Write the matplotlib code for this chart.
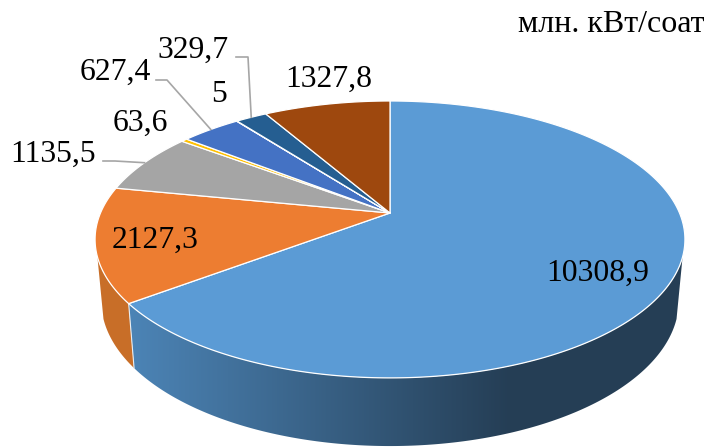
import matplotlib
matplotlib.use('Agg')
import matplotlib.pyplot as plt
import numpy as np
from matplotlib.patches import Polygon

values = [10308.9, 2127.3, 1135.5, 63.6, 627.4, 5, 329.7, 1327.8]
labels = ['10308,9', '2127,3', '1135,5', '63,6', '627,4', '5', '329,7', '1327,8']
colors = ['#5B9BD5', '#ED7D31', '#A5A5A5', '#FFC000', '#4472C4', '#70AD47', '#255E91', '#9E480E']
unit_label = 'млн. кВт/соат'

# Label centres in pixels, and elbows for the ones that have a leader line
label_pos = [(598, 273), (155, 240), (53, 154), (140, 123), (115, 72), (219, 95), (193, 50), (329, 79)]
leaders = {2: [(103, 161), (115, 161)], 4: [(156, 80), (167, 80)], 6: [(236, 57), (248, 57)]}

plt.rcParams['font.family'] = ['Liberation Serif', 'DejaVu Serif']

CX = 390
# Perspective of the pie: far edge is squeezed compared to the near edge
K = 0.191
TOP_R, TOP_S, TOP_Y = 289.5, 133.4, 213
BOT_R, BOT_S, BOT_Y = 283.5, 140, 273


def project(theta, r, s, y0):
    # theta is clockwise from 12 o'clock, in degrees
    t = np.radians(theta)
    u = np.sin(t)
    v = np.cos(t)
    d = 1 + K * v
    return CX + r * u / d, y0 - s * v / d


def top(theta):
    return project(theta, TOP_R, TOP_S, TOP_Y)


def bottom(theta):
    return project(theta, BOT_R, BOT_S, BOT_Y)


def wall(a, b):
    # Outline of the side wall between two angles
    th = np.linspace(a, b, 200)
    xt, yt = top(th)
    xb, yb = bottom(th)
    return np.c_[np.r_[xt, xb[::-1]], np.r_[yt, yb[::-1]]]


fig = plt.figure(figsize=(7.04, 4.48), dpi=100)
ax = fig.add_axes([0, 0, 1, 1])

shares = np.array(values) / sum(values) * 360
ends = np.cumsum(shares)
starts = ends - shares

# Side wall: only the front part is visible, 108 to 252 degrees
SIDE_START, SIDE_END = 108, 252

# Blue wall has a gradient, light on the left and dark from x=510 on
grad_x = np.arange(704)
f = np.clip((grad_x - 130) / (510 - 130), 0, 1)[None, :, None]
c0 = np.array([76, 132, 182]) / 255
c1 = np.array([37, 62, 85]) / 255
gradient = c0 + (c1 - c0) * f
im = ax.imshow(gradient, extent=(0, 704, 448, 0), aspect='auto', zorder=1)
im.set_clip_path(Polygon(wall(SIDE_START, ends[0]), transform=ax.transData))

ax.add_patch(Polygon(wall(ends[0], SIDE_END), facecolor='#C86E28', edgecolor='none', zorder=1))

ax.set_xlim(0, 704)
ax.set_ylim(448, 0)
ax.axis('off')

# Light line where the two walls meet
xa, ya = top(ends[0])
xb, yb = bottom(ends[0])
ax.plot([xa, xb], [ya, yb], color='#E8EEF3', lw=0.8, zorder=2)

# Top face
for i in range(len(values)):
    th = np.linspace(starts[i], ends[i], max(int(shares[i] * 2), 2))
    x, y = top(th)
    ax.fill(np.r_[CX, x], np.r_[TOP_Y, y], facecolor=colors[i], edgecolor='white',
            lw=0.9, joinstyle='round', zorder=3)

for i in range(len(values)):
    ax.text(label_pos[i][0], label_pos[i][1], labels[i], fontsize=22.8, ha='center',
            va='center', color='black', zorder=5)

for i, pts in leaders.items():
    end = top((starts[i] + ends[i]) / 2)
    xs = [p[0] for p in pts] + [end[0]]
    ys = [p[1] for p in pts] + [end[1]]
    ax.plot(xs, ys, color='#A6A6A6', lw=1.2, zorder=4)

ax.text(704, 24, unit_label, fontsize=23, ha='right', va='center', color='black')

fig.savefig('out.png', dpi=100)
